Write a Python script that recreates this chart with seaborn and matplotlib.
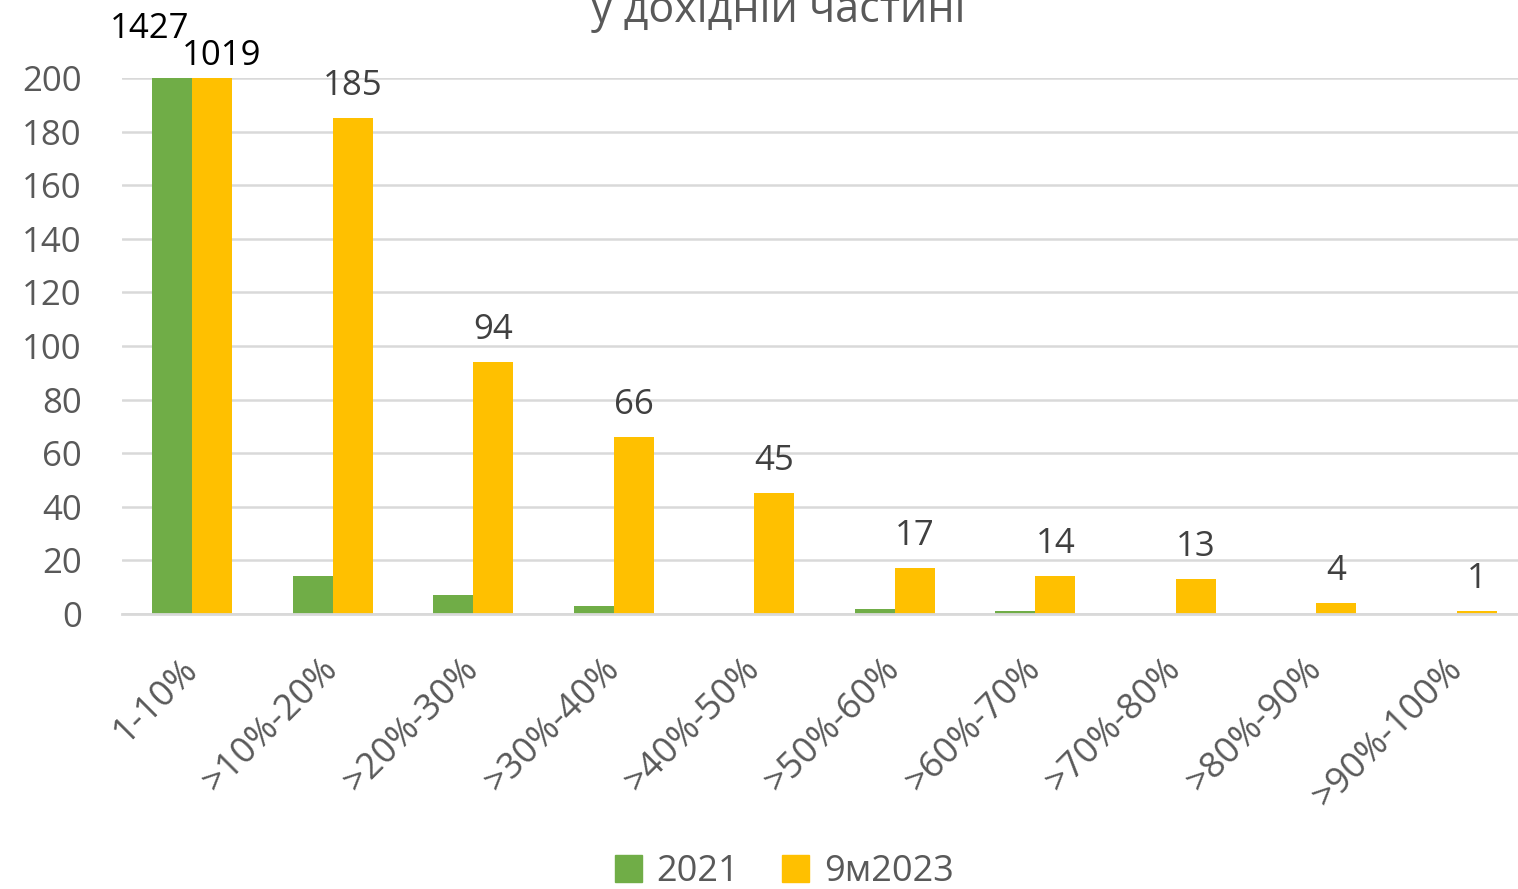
import matplotlib.pyplot as plt
import pandas as pd
import seaborn as sns

# ------------------------------------------------------------------------------
# data
# ------------------------------------------------------------------------------
ranges = ["1-10%", ">10%-20%", ">20%-30%", ">30%-40%", ">40%-50%",
          ">50%-60%", ">60%-70%", ">70%-80%", ">80%-90%", ">90%-100%"]
periods = ["2021", "9м2023"]
counts_2021 = [1427, 14, 7, 3, 0, 2, 1, 0, 0, 0]
counts_2023 = [1019, 185, 94, 66, 45, 17, 14, 13, 4, 1]

title_line = "у дохідній частині"
colors = ["#70AD47", "#FFC000"]
text_grey = "#595959"
grid_grey = "#D9D9D9"

df = pd.DataFrame({
    "range": ranges * 2,
    "count": counts_2021 + counts_2023,
    "period": [periods[0]] * len(ranges) + [periods[1]] * len(ranges),
})

# ------------------------------------------------------------------------------
# plot
# ------------------------------------------------------------------------------
sns.set_theme(style="white")
plt.rcParams["font.family"] = ["Open Sans", "DejaVu Sans"]

W, H = 1518, 889
FS = 25
fig = plt.figure(figsize=(W / 100, H / 100), dpi=100)
ax = fig.add_axes([122 / W, (H - 614) / H, 1405 / W, 536 / H])

sns.barplot(
    data=df, x="range", y="count", hue="period",
    palette=colors, width=0.57, gap=0, saturation=1,
    edgecolor="none", legend=False, ax=ax,
)

ax.set_ylim(0, 200)
ax.set_xlim(-0.5, len(ranges) - 0.5)
ax.set_yticks(range(0, 201, 20))
ax.yaxis.grid(True, color=grid_grey, linewidth=1.8)
ax.set_axisbelow(True)
for side in ["top", "right", "left"]:
    ax.spines[side].set_visible(False)
ax.spines["bottom"].set_color(grid_grey)
ax.spines["bottom"].set_linewidth(2)
ax.set_xlabel("")
ax.set_ylabel("")

ax.tick_params(axis="y", length=0, pad=29, labelsize=FS, labelcolor=text_grey)
ax.tick_params(axis="x", length=0, pad=36, labelsize=26, labelcolor=text_grey)
for lab in ax.get_xticklabels():
    lab.set_rotation(45)
    lab.set_ha("right")
    lab.set_va("center")
    lab.set_rotation_mode("anchor")

# value labels (yellow series, except the clipped first bar)
green_bars, yellow_bars = ax.containers[0], ax.containers[1]
ax.bar_label(
    yellow_bars,
    labels=[""] + [str(v) for v in counts_2023[1:]],
    padding=11, fontsize=FS, color="#404040",
)

# labels of the clipped bars, above the axes
g = green_bars.patches[0]
y_ = yellow_bars.patches[0]
ax.annotate(str(counts_2021[0]), xy=(g.get_x() + g.get_width() / 2, 200),
            xytext=(-16, 35), textcoords="offset points",
            ha="center", va="center", fontsize=FS, color="black",
            annotation_clip=False)
ax.annotate(str(counts_2023[0]), xy=(y_.get_x() + y_.get_width() / 2, 200),
            xytext=(7, 15.5), textcoords="offset points",
            ha="center", va="center", fontsize=FS, color="black",
            annotation_clip=False)

# title (upper line falls outside the canvas)
fig.text(778 / W, 1 - 22 / H, title_line, ha="center", va="baseline",
         fontsize=31, color=text_grey)

handles = [plt.Rectangle((0, 0), 1, 1, color=c) for c in colors]
fig.legend(handles, periods, loc="center", bbox_to_anchor=(784 / W, 1 - 872 / H),
           ncol=2, frameon=False, fontsize=26, handlelength=0.75, handleheight=0.75,
           handletextpad=0.4, columnspacing=1.2, labelcolor=text_grey)

fig.savefig("out.png", dpi=100)
